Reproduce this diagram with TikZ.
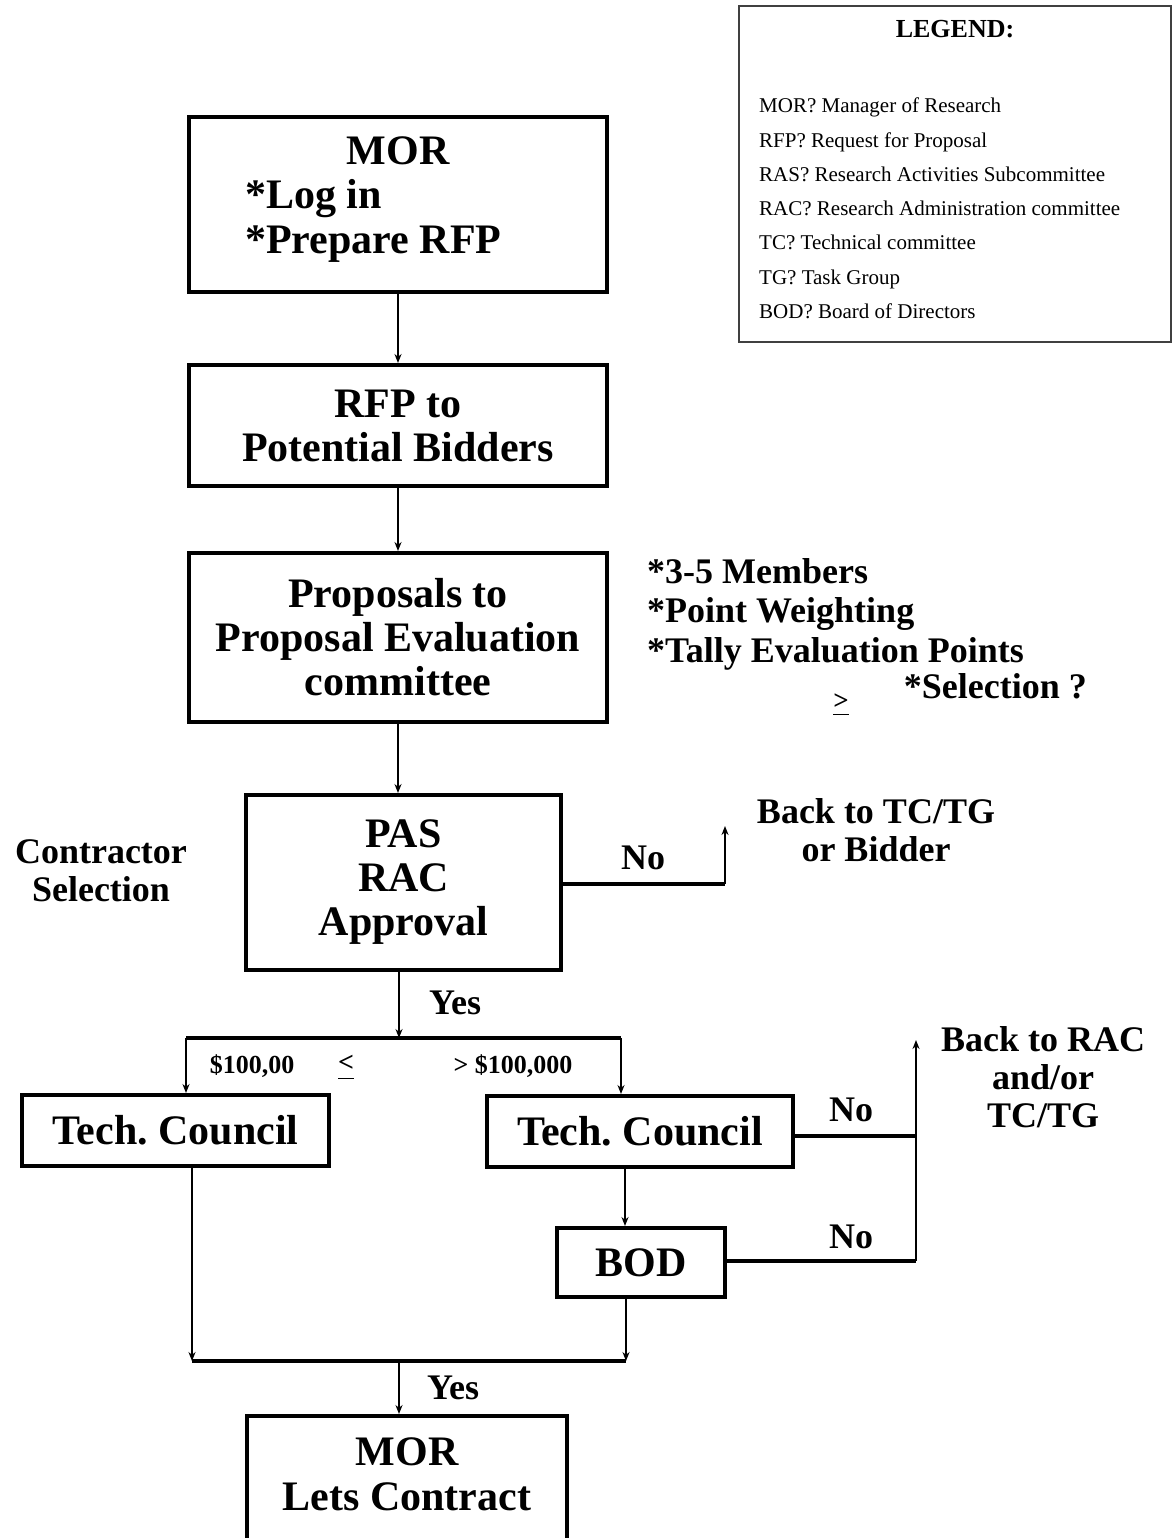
\documentclass[tikz,border=0pt]{standalone}
\usepackage{fontspec}
\setmainfont{Liberation Serif}
\usetikzlibrary{arrows.meta}
\tikzset{
  box/.style={draw, line width=4pt, inner sep=0pt, align=center,
    font=\bfseries\fontsize{42}{44}\selectfont},
  boxtxt/.style={inner sep=0pt, font=\bfseries\fontsize{42}{44}\selectfont},
  lbl/.style={inner sep=0pt, align=center, font=\bfseries\fontsize{36}{38}\selectfont},
  small/.style={inner sep=0pt, font=\bfseries\fontsize{26}{28}\selectfont},
  legtxt/.style={inner sep=0pt, anchor=base west, font=\fontsize{21}{23}\selectfont},
  thin/.style={line width=1.5pt, -{Stealth[length=9pt,width=7pt]}},
  thick/.style={line width=4pt},
}
\begin{document}
\begin{tikzpicture}[x=1pt,y=-1pt]
\useasboundingbox (0,0) rectangle (1172,1538);
\clip (0,0) rectangle (1172,1538);

% legend
\draw[line width=1.3pt, black!75] (739,6) rectangle (1171,342);
\node[inner sep=0pt, anchor=base, font=\bfseries\fontsize{26}{28}\selectfont] (legt) at (955,38) {LEGEND:};
\node[legtxt] (l1) at (759,113) {MOR? Manager of Research};
\node[legtxt] (l2) at (759,148) {RFP? Request for Proposal};
\node[legtxt] (l3) at (759,182) {RAS? Research Activities Subcommittee};
\node[legtxt] (l4) at (759,216) {RAC? Research Administration committee};
\node[legtxt] (l5) at (759,250) {TC? Technical committee};
\node[legtxt] (l6) at (759,284) {TG? Task Group};
\node[legtxt] (l7) at (759,318) {BOD? Board of Directors};

% boxes
\node[box, minimum width=418, minimum height=175] (b1) at (398,204.5) {};
\node[boxtxt, anchor=base] (b1a) at (398,165) {MOR};
\node[boxtxt, anchor=base west] (b1b) at (245,209) {*Log in};
\node[boxtxt, anchor=base west] (b1c) at (245,254) {*Prepare RFP};

\node[box, minimum width=418, minimum height=121] (b2) at (398,425.5) {RFP to\\Potential Bidders};
\node[box, minimum width=418, minimum height=169] (b3) at (398,637.5) {Proposals to\\Proposal Evaluation\\committee};
\node[box, minimum width=315, minimum height=175] (b4) at (403.5,882.5) {PAS\\RAC\\Approval};
\node[box, minimum width=307, minimum height=71] (b5) at (175.5,1130.5) {Tech.\ Council};
\node[box, minimum width=306, minimum height=71] (b6) at (640,1131.5) {Tech.\ Council};
\node[box, minimum width=168, minimum height=69] (b7) at (641,1262.5) {BOD};
\node[box, minimum width=320, minimum height=160] (b8) at (407,1496) {};
\node[boxtxt] (b8a) at (407,1452) {MOR};
\node[boxtxt] (b8b) at (407,1497) {Lets Contract};

% side notes
\node[lbl, anchor=base west] (n1) at (647,583) {*3-5 Members};
\node[lbl, anchor=base west] (n2) at (647,622) {*Point Weighting};
\node[lbl, anchor=base west] (n3) at (647,662) {*Tally Evaluation Points};
\node[lbl, anchor=base east] (n4) at (1087,698) {*Selection ?};
\node[inner sep=0pt, anchor=base, font=\bfseries\fontsize{27}{29}\selectfont] (ge) at (841,709) {\underline{\raisebox{0pt}[\height][4pt]{>}}};

\node[lbl] (cs) at (101,871) {Contractor\\Selection};

% coordinates
\coordinate (n4no) at (725,884);
\coordinate (n4up) at (725,826);
\coordinate (jy) at (399,1038);
\coordinate (jl) at (186,1038);
\coordinate (jr) at (621,1038);
\coordinate (bx) at (625,1200);
\coordinate (rr1) at (916,1136);
\coordinate (rr2) at (916,1261);
\coordinate (rrup) at (916,1040);
\coordinate (ml) at (192,1361);
\coordinate (mr) at (626,1361);
\coordinate (mm) at (399,1361);

% connectors
\draw[thin] (b1.south) -- (b2.north);
\draw[thin] (b2.south) -- (b3.north);
\draw[thin] (b3.south) -- (b3.south |- b4.north);
\draw[thin] (jy |- b4.south) -- (jy);
\draw[thick] (jl) -- (jr);
\draw[thin] (jl) -- (jl |- b5.north);
\draw[thin] (jr) -- (jr |- b6.north);

\draw[thick] (b4.east |- n4no) -- (n4no);
\draw[thin] (n4no) -- (n4up);

\draw[thin] (bx |- b6.south) -- (bx |- b7.north);
\draw[thick] (b6.east |- rr1) -- (rr1);
\draw[thick] (b7.east |- rr2) -- (rr2);
\draw[thin] (rr2) -- (rrup);

\draw[thin] (ml |- b5.south) -- (ml);
\draw[thin] (mr |- b7.south) -- (mr);
\draw[thick] (ml) -- (mr);
\draw[thin] (mm) -- (mm |- b8.north);

% labels
\node[lbl] (no1) at (643,858) {No};
\node[lbl] (bk1) at (876,830) {Back to TC/TG\\or Bidder};
\node[lbl] (yes1) at (455,1003) {Yes};
\node[small] (v1) at (252,1066) {\$100,00};
\node[inner sep=0pt, anchor=base, font=\bfseries\fontsize{28}{30}\selectfont] (le) at (346,1071) {\underline{\raisebox{0pt}[\height][6pt]{<}}};
\node[small] (v2) at (513,1066) {>\ \$100,000};
\node[lbl] (no2) at (851,1110) {No};
\node[lbl] (no3) at (851,1237) {No};
\node[lbl] (bk2) at (1043,1077) {Back to RAC\\and/or\\TC/TG};
\node[lbl] (yes2) at (453,1388) {Yes};
\end{tikzpicture}
\end{document}
